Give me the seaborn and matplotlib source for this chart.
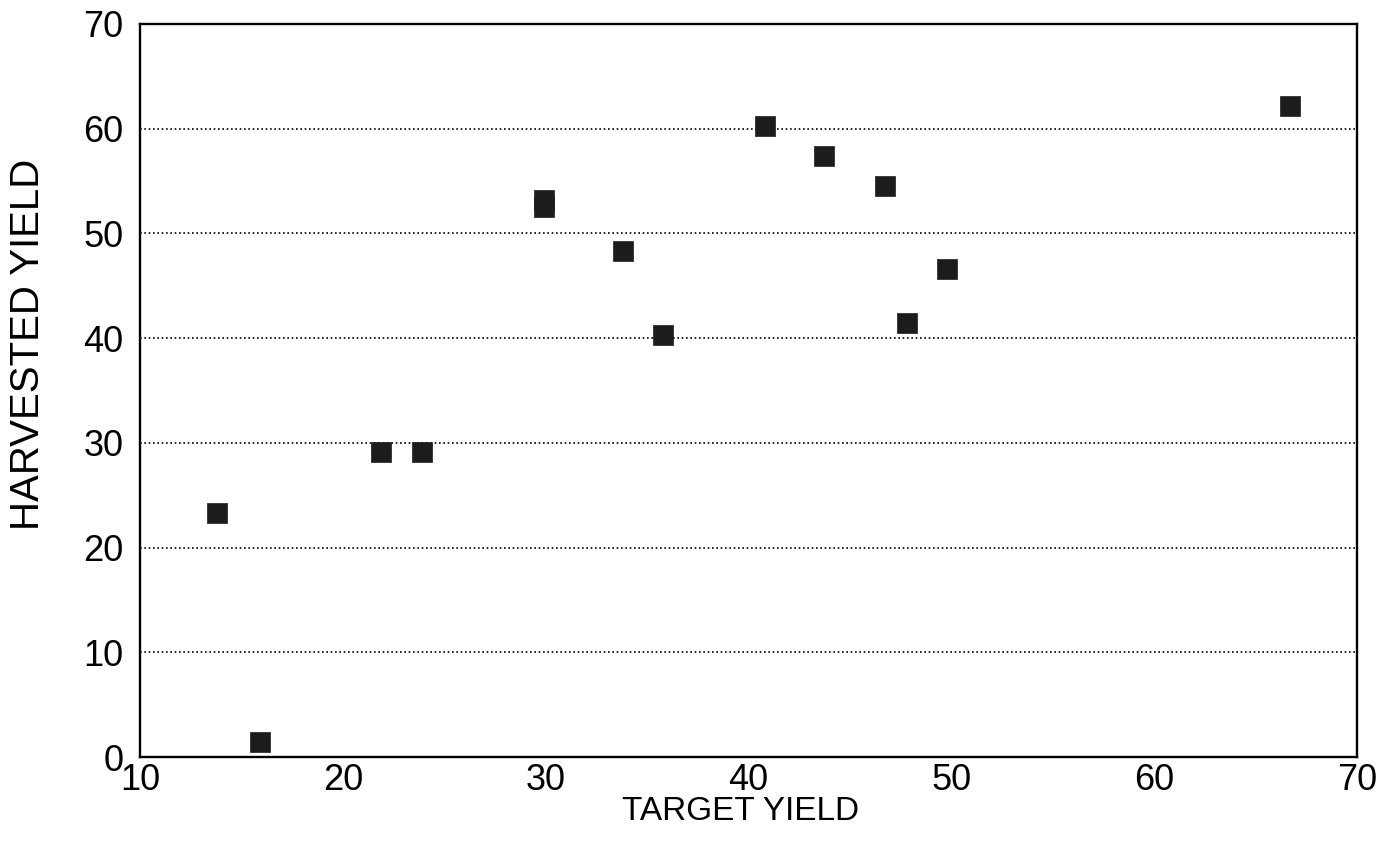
import pandas as pd
import numpy as np
import seaborn as sns
import matplotlib.pyplot as plt

# values
target_yield = [13.8, 15.9, 21.9, 23.9, 29.9, 29.9, 33.8, 35.8, 40.8, 43.7, 46.7, 47.8, 49.8, 66.7]
harvested_yield = [23.3, 1.4, 29.1, 29.1, 53.2, 52.5, 48.3, 40.3, 60.2, 57.4, 54.5, 41.4, 46.6, 62.2]

x_ticks = [10, 20, 30, 40, 50, 60, 70]
y_ticks = [0, 10, 20, 30, 40, 50, 60, 70]

data = pd.DataFrame({'TARGET YIELD': target_yield, 'HARVESTED YIELD': harvested_yield})

sns.set_style('white')
plt.rcParams['font.family'] = ['Liberation Sans', 'DejaVu Sans']
plt.rcParams['text.color'] = 'black'
plt.rcParams['axes.labelcolor'] = 'black'

fig = plt.figure(figsize=(13.92, 8.52), dpi=100)
ax = fig.add_axes([0.1006, 0.1115, 0.8744, 0.8605])

sns.scatterplot(data=data, x='TARGET YIELD', y='HARVESTED YIELD', marker='s', s=215,
                color='#1c1c1c', edgecolor='#1c1c1c', linewidth=0.5, ax=ax, zorder=3)

ax.set_xlim(10, 70)
ax.set_ylim(0, 70)
ax.set_xticks(x_ticks)
ax.set_yticks(y_ticks)

# dotted horizontal grid only
for yv in y_ticks[1:-1]:
    ax.axhline(yv, color='black', linestyle=(0, (1, 1.6)), linewidth=1.2, zorder=1)

for side in ['left', 'right', 'top', 'bottom']:
    ax.spines[side].set_color('black')
    ax.spines[side].set_linewidth(1.7)

ax.tick_params(axis='y', direction='out', length=9, width=1.5, labelsize=26, pad=3,
               colors='black')
ax.tick_params(axis='x', direction='in', length=7, width=1.2, labelsize=26, pad=4,
               colors='black')

ax.set_xlabel('TARGET YIELD', fontsize=24, va='center')
ax.set_ylabel('HARVESTED YIELD', fontsize=29, va='center')
ax.xaxis.set_label_coords(0.493, -0.074)
ax.yaxis.set_label_coords(-0.092, 0.563)

plt.savefig('out.png', dpi=100)
